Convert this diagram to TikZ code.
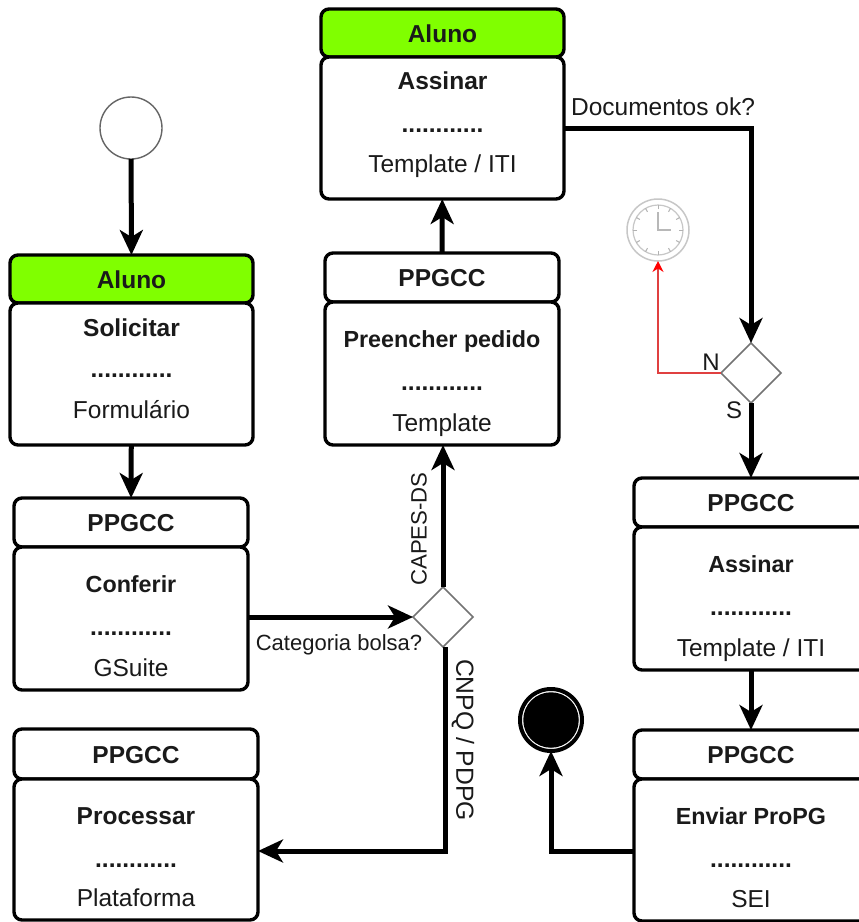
\documentclass[tikz,border=0pt]{standalone}
\usepackage{fontspec}
\setmainfont{Liberation Sans}
\usetikzlibrary{arrows.meta,shapes.geometric}
\definecolor{txt}{HTML}{1A1A1A}
\definecolor{limeg}{HTML}{80FF00}
\definecolor{redline}{HTML}{E04040}
\tikzset{
  x=1pt,y=-1pt,
  card/.style={draw=black,line width=3.4pt,rounded corners=8pt,fill=white,inner sep=0pt,outer sep=0pt},
  lab/.style={text=txt,font=\fontsize{24.5}{26}\selectfont,anchor=base,inner sep=0pt},
  ttl/.style={text=txt,font=\fontsize{24.5}{26}\selectfont\bfseries,anchor=base,inner sep=0pt},
  act/.style={text=txt,font=\fontsize{\tsz}{26}\selectfont\bfseries,anchor=base,inner sep=0pt},
  edgelab/.style={text=txt,font=\fontsize{#1}{26}\selectfont,inner sep=0pt},
  flow/.style={draw=black,line width=5pt,-{Stealth[length=25pt,width=23pt,inset=7pt]}},
  gate/.style={diamond,draw=black!55,line width=1.6pt,fill=white,minimum width=60pt,minimum height=60pt,inner sep=0pt,outer sep=0pt},
  noflow/.style={draw=redline,line width=1.6pt,-{Stealth[length=11pt,width=11pt,color=red,fill=red]}},
}
\newcommand{\tsz}{24.5}
\newcommand{\actbox}[9]{%
  \node[card,fill=#7,minimum width={#3-#2},minimum height={#5-#4}] (#1h) at ({(#2+#3)/2},{(#4+#5)/2}) {};
  \node[card,minimum width={#3-#2},minimum height={#6-#5}] (#1b) at ({(#2+#3)/2},{(#5+#6)/2}) {};
  \node[ttl] (#1t) at ({(#2+#3)/2},{(#4+#5)/2+9}) {#8};
  \def\tmpx{#2}\def\tmpxx{#3}\def\tmpn{#1}\def\tmpy{#9}%
  \actboxrest}
\newcommand{\actboxrest}[4]{%
  \node[act] (\tmpn n) at ({(\tmpx+\tmpxx)/2},#1) {\tmpy};
  \node[ttl] (\tmpn d) at ({(\tmpx+\tmpxx)/2},#2) {............};
  \node[lab] (\tmpn s) at ({(\tmpx+\tmpxx)/2},#4) {#3};
}
\begin{document}
\begin{tikzpicture}
\path[use as bounding box] (0,0) rectangle (859,922);
\clip (0,0) rectangle (859,922);
\fill[white] (0,0) rectangle (859,922);

\actbox{a}{10}{253}{255}{303}{445}{limeg}{Aluno}{Solicitar}{336}{377}{Formulário}{418}
\actbox{p}{14}{258}{729}{779}{920}{white}{PPGCC}{Processar}{824}{867}{Plataforma}{906}
\actbox{t}{321}{564}{9}{57}{199}{limeg}{Aluno}{Assinar}{89}{132}{Template / ITI}{172}
\renewcommand{\tsz}{23.3}
\actbox{c}{14}{248}{498}{547}{690}{white}{PPGCC}{Conferir}{592}{635}{GSuite}{676}
\actbox{m}{325}{559}{253}{302}{445}{white}{PPGCC}{Preencher pedido}{347}{390}{Template}{431}
\actbox{r}{634}{868}{478}{527}{670}{white}{PPGCC}{Assinar}{572}{615}{Template / ITI}{656}
\actbox{e}{634}{868}{730}{779}{921}{white}{PPGCC}{Enviar ProPG}{824}{867}{SEI}{907}

\node[circle,draw=black!60,line width=1.4pt,fill=white,minimum size=62pt,inner sep=0pt,outer sep=0pt] (start) at (131,128) {};
\node[circle,draw=black,line width=4pt,fill=white,minimum size=62pt,inner sep=0pt,outer sep=0pt] (end) at (551,720) {};
\node[circle,fill=black,minimum size=55.5pt,inner sep=0pt] (endin) at (end) {};
\node[gate] (g1) at (443,617) {};
\node[gate] (g2) at (751,373) {};

\node[circle,draw=black!22,line width=1.5pt,fill=white,minimum size=62pt,inner sep=0pt,outer sep=0pt] (clock) at (658,230) {};
\node[circle,draw=black!22,line width=1.2pt,minimum size=50pt,inner sep=0pt] (clockin) at (clock) {};
\foreach \a in {0,30,...,330}
  \draw[black!30,line width=1pt] (clock) ++(\a:21pt) -- ++(\a:4pt);
\draw[black!28,line width=1.3pt] (658,212) -- (clock.center) -- (671,230);

\draw[flow] (start) -- (ah);
\draw[flow] (ab) -- (ch);
\draw[flow] (cb.east |- g1) -- (g1);
\draw[flow] (g1) -- (mb.south -| g1);
\draw[flow] ([xshift=2pt]g1.south) |- ([yshift=-1.5pt]pb.east);
\draw[flow] (mh) -- (tb);
\draw[flow] (tb) -| (g2);
\draw[flow] (g2) -- (rh.north -| g2);
\draw[flow] (rb.south -| g2) -- (eh.north -| g2);
\draw[flow] ([yshift=-1.5pt]eb.west) -| (end);
\draw[noflow] (g2) -| (clock);

\node[edgelab=22] (l1) at (339,645) {Categoria bolsa?};
\node[edgelab=24.5] (l2) at (663,107) {Documentos ok?};
\node[edgelab=22.2,rotate=90] (l3) at (419,529) {CAPES-DS};
\node[edgelab=24.7,rotate=-90] (l4) at (463,740) {CNPQ / PDPG};
\node[edgelab=24] (l5) at (711,362) {N};
\node[edgelab=24] (l6) at (734,410) {S};
\end{tikzpicture}
\end{document}
